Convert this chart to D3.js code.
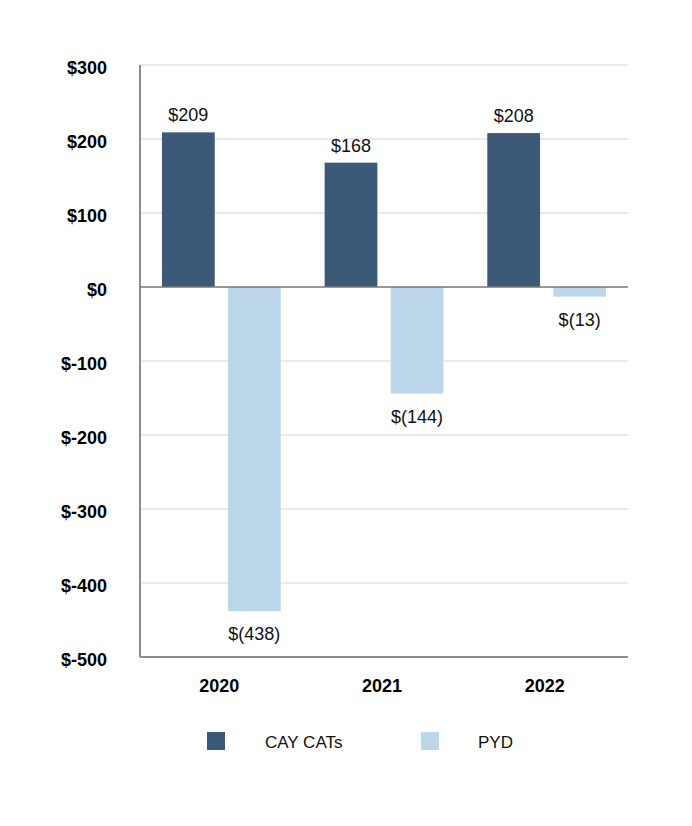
<!DOCTYPE html>
<html>
<head>
<meta charset="utf-8">
<script src="https://cdn.jsdelivr.net/npm/d3@7"></script>
<style>
  body { margin: 0; background: #fff; }
  text { font-family: "Liberation Sans", Arial, sans-serif; }
</style>
</head>
<body>
<svg width="692" height="826"></svg>
<script>
// chart data
const years = ['2020', '2021', '2022'];
const seriesNames = ['CAY CATs', 'PYD'];
const cayCats = [209, 168, 208];
const pyd = [-438, -144, -13];
const yTicks = [300, 200, 100, 0, -100, -200, -300, -400, -500];
const colors = ['#3c5a78', '#bcd7e9'];

const svg = d3.select('svg');
const plotLeft = 140, plotRight = 628, plotTop = 65, plotBottom = 657;

const y = d3.scaleLinear().domain([-500, 300]).range([plotBottom, plotTop]);
const x0 = d3.scaleBand().domain(years).range([plotLeft, plotRight])
    .paddingInner(0.27).paddingOuter(0.135);
const x1 = d3.scaleBand().domain(seriesNames).range([0, x0.bandwidth()])
    .paddingInner(0.2);
const color = d3.scaleOrdinal().domain(seriesNames).range(colors);

// grid lines
svg.append('g')
    .selectAll('line')
    .data(yTicks.filter(t => t !== 0 && t !== -500))
    .enter()
    .append('line')
    .attr('x1', plotLeft).attr('x2', plotRight)
    .attr('y1', d => y(d)).attr('y2', d => y(d))
    .attr('stroke', '#e3e3e3')
    .attr('stroke-width', 1.5);

// y tick labels
svg.append('g')
    .selectAll('text')
    .data(yTicks)
    .enter()
    .append('text')
    .attr('x', 107)
    .attr('y', d => y(d) + 9)
    .attr('text-anchor', 'end')
    .attr('font-size', 18)
    .attr('font-weight', 'bold')
    .attr('fill', '#000')
    .text(d => '$' + d);

// bars
const rows = years.map((yr, i) => ({year: yr, values: [
    {name: seriesNames[0], v: cayCats[i]},
    {name: seriesNames[1], v: pyd[i]}
]}));

const groups = svg.append('g')
    .selectAll('g')
    .data(rows)
    .enter()
    .append('g')
    .attr('transform', d => `translate(${x0(d.year)},0)`);

groups.selectAll('rect')
    .data(d => d.values)
    .enter()
    .append('rect')
    .attr('x', d => x1(d.name))
    .attr('width', x1.bandwidth())
    .attr('y', d => y(Math.max(0, d.v)))
    .attr('height', d => Math.abs(y(d.v) - y(0)))
    .attr('fill', d => color(d.name));

groups.selectAll('text')
    .data(d => d.values)
    .enter()
    .append('text')
    .attr('x', d => x1(d.name) + x1.bandwidth() / 2)
    .attr('y', d => d.v >= 0 ? y(d.v) - 11 : y(d.v) + 29)
    .attr('text-anchor', 'middle')
    .attr('font-size', 18)
    .attr('fill', '#111')
    .text(d => d.v >= 0 ? '$' + d.v : '$(' + Math.abs(d.v) + ')');

// axes lines
svg.append('line')
    .attr('x1', plotLeft).attr('x2', plotLeft)
    .attr('y1', plotTop).attr('y2', plotBottom)
    .attr('stroke', '#8c8c8c').attr('stroke-width', 2);
svg.append('line')
    .attr('x1', plotLeft).attr('x2', plotRight)
    .attr('y1', plotBottom).attr('y2', plotBottom)
    .attr('stroke', '#8c8c8c').attr('stroke-width', 2);
svg.append('line')
    .attr('x1', plotLeft).attr('x2', plotRight)
    .attr('y1', y(0)).attr('y2', y(0))
    .attr('stroke', '#777').attr('stroke-width', 1.5);

// year labels
svg.append('g')
    .selectAll('text')
    .data(years)
    .enter()
    .append('text')
    .attr('x', d => x0(d) + x0.bandwidth() / 2 - 2)
    .attr('y', 692)
    .attr('text-anchor', 'middle')
    .attr('font-size', 18)
    .attr('font-weight', 'bold')
    .attr('fill', '#000')
    .text(d => d);

// legend
const legendX = [207, 421];
const legend = svg.append('g')
    .selectAll('g')
    .data(seriesNames)
    .enter()
    .append('g')
    .attr('transform', (d, i) => `translate(${legendX[i]},732)`);
legend.append('rect')
    .attr('width', 18).attr('height', 18)
    .attr('fill', d => color(d));
legend.append('text')
    .attr('x', (d, i) => i === 0 ? 58 : 57)
    .attr('y', 16)
    .attr('font-size', 17)
    .attr('fill', '#111')
    .text(d => d);
</script>
</body>
</html>
